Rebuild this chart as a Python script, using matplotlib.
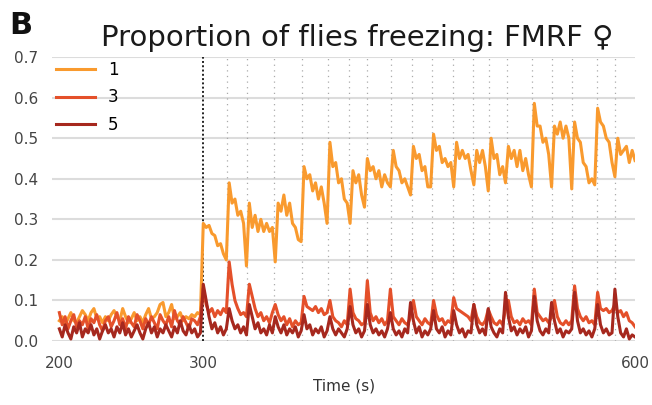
#!/usr/bin/env python3
"""
Freezing proportion trace for FMRF females, three group sizes.
"""

import numpy as np
import matplotlib
matplotlib.use('Agg')
import matplotlib.pyplot as plt


# Time axis (s), one sample every 2 s
TIME = np.arange(200, 601, 2)

# Proportion freezing (rows of 20 s)
FREEZE_1 = [
    0.05, 0.06, 0.04, 0.055, 0.07, 0.05, 0.045, 0.06, 0.075, 0.065,
    0.05, 0.07, 0.08, 0.055, 0.06, 0.045, 0.06, 0.05, 0.065, 0.075,
    0.06, 0.05, 0.08, 0.06, 0.045, 0.055, 0.07, 0.05, 0.06, 0.045,
    0.065, 0.08, 0.055, 0.06, 0.07, 0.09, 0.095, 0.06, 0.07, 0.09,
    0.055, 0.06, 0.07, 0.05, 0.06, 0.055, 0.065, 0.06, 0.07, 0.065,
    0.29, 0.28, 0.285, 0.265, 0.26, 0.235, 0.24, 0.215, 0.2, 0.39,
    0.34, 0.35, 0.31, 0.32, 0.29, 0.185, 0.34, 0.28, 0.31, 0.27,
    0.30, 0.27, 0.29, 0.27, 0.28, 0.195, 0.34, 0.32, 0.36, 0.31,
    0.34, 0.29, 0.28, 0.25, 0.245, 0.43, 0.40, 0.41, 0.37, 0.39,
    0.35, 0.38, 0.34, 0.29, 0.49, 0.43, 0.44, 0.39, 0.40, 0.35,
    0.34, 0.29, 0.42, 0.39, 0.41, 0.36, 0.33, 0.45, 0.42, 0.43,
    0.40, 0.42, 0.38, 0.41, 0.39, 0.38, 0.47, 0.43, 0.42, 0.39,
    0.40, 0.38, 0.36, 0.48, 0.45, 0.46, 0.42, 0.43, 0.38, 0.38,
    0.51, 0.47, 0.48, 0.44, 0.45, 0.43, 0.44, 0.38, 0.49, 0.45,
    0.47, 0.45, 0.46, 0.42, 0.385, 0.47, 0.44, 0.47, 0.43, 0.37,
    0.50, 0.45, 0.46, 0.41, 0.43, 0.39, 0.48, 0.45, 0.47, 0.43,
    0.47, 0.42, 0.45, 0.41, 0.38, 0.586, 0.53, 0.53, 0.49, 0.50,
    0.46, 0.38, 0.53, 0.51, 0.54, 0.50, 0.53, 0.50, 0.375, 0.54,
    0.50, 0.49, 0.44, 0.43, 0.39, 0.40, 0.385, 0.574, 0.54, 0.53,
    0.50, 0.49, 0.44, 0.405, 0.50, 0.46, 0.47, 0.48, 0.44, 0.47,
    0.445,
]

FREEZE_3 = [
    0.07, 0.04, 0.06, 0.03, 0.05, 0.065, 0.035, 0.05, 0.04, 0.06,
    0.03, 0.055, 0.045, 0.065, 0.04, 0.025, 0.05, 0.06, 0.035, 0.05,
    0.07, 0.04, 0.055, 0.03, 0.06, 0.045, 0.035, 0.065, 0.05, 0.03,
    0.055, 0.04, 0.06, 0.045, 0.03, 0.065, 0.05, 0.04, 0.06, 0.035,
    0.075, 0.05, 0.04, 0.06, 0.045, 0.03, 0.055, 0.05, 0.04, 0.06,
    0.13, 0.09, 0.07, 0.08, 0.06, 0.075, 0.065, 0.08, 0.07, 0.195,
    0.14, 0.10, 0.08, 0.065, 0.07, 0.06, 0.14, 0.11, 0.08, 0.06,
    0.07, 0.05, 0.06, 0.045, 0.07, 0.09, 0.065, 0.05, 0.06, 0.04,
    0.055, 0.035, 0.05, 0.04, 0.045, 0.11, 0.085, 0.08, 0.075, 0.085,
    0.07, 0.08, 0.065, 0.07, 0.10, 0.06, 0.05, 0.045, 0.035, 0.05,
    0.04, 0.128, 0.07, 0.055, 0.05, 0.04, 0.045, 0.149, 0.07, 0.05,
    0.06, 0.045, 0.055, 0.04, 0.05, 0.128, 0.06, 0.05, 0.04, 0.055,
    0.045, 0.04, 0.06, 0.10, 0.06, 0.05, 0.04, 0.055, 0.045, 0.04,
    0.10, 0.065, 0.05, 0.055, 0.04, 0.05, 0.045, 0.107, 0.08, 0.075,
    0.07, 0.065, 0.06, 0.05, 0.09, 0.06, 0.045, 0.04, 0.05, 0.078,
    0.06, 0.045, 0.04, 0.05, 0.04, 0.08, 0.10, 0.06, 0.045, 0.05,
    0.04, 0.055, 0.045, 0.05, 0.04, 0.128, 0.07, 0.06, 0.05, 0.055,
    0.045, 0.06, 0.10, 0.06, 0.045, 0.04, 0.05, 0.04, 0.05, 0.136,
    0.08, 0.06, 0.05, 0.06, 0.045, 0.05, 0.04, 0.12, 0.08, 0.075,
    0.08, 0.07, 0.075, 0.09, 0.07, 0.075, 0.06, 0.07, 0.05, 0.045,
    0.035,
]

FREEZE_5 = [
    0.03, 0.01, 0.04, 0.02, 0.005, 0.035, 0.02, 0.045, 0.01, 0.03,
    0.02, 0.04, 0.015, 0.03, 0.005, 0.025, 0.04, 0.02, 0.03, 0.01,
    0.035, 0.02, 0.045, 0.015, 0.03, 0.01, 0.025, 0.04, 0.02, 0.005,
    0.03, 0.045, 0.02, 0.035, 0.01, 0.03, 0.02, 0.04, 0.025, 0.01,
    0.035, 0.02, 0.05, 0.025, 0.015, 0.04, 0.02, 0.03, 0.01, 0.02,
    0.14, 0.10, 0.06, 0.03, 0.045, 0.02, 0.035, 0.015, 0.03, 0.08,
    0.05, 0.03, 0.04, 0.02, 0.035, 0.015, 0.09, 0.06, 0.03, 0.045,
    0.02, 0.03, 0.015, 0.04, 0.02, 0.06, 0.035, 0.02, 0.04, 0.015,
    0.03, 0.02, 0.035, 0.01, 0.025, 0.065, 0.03, 0.04, 0.015, 0.03,
    0.02, 0.035, 0.01, 0.025, 0.06, 0.03, 0.015, 0.03, 0.02, 0.01,
    0.03, 0.085, 0.04, 0.02, 0.03, 0.01, 0.025, 0.09, 0.04, 0.02,
    0.03, 0.015, 0.025, 0.01, 0.03, 0.07, 0.03, 0.015, 0.025, 0.01,
    0.03, 0.02, 0.095, 0.05, 0.02, 0.035, 0.01, 0.025, 0.015, 0.03,
    0.075, 0.03, 0.02, 0.035, 0.01, 0.025, 0.015, 0.075, 0.04, 0.02,
    0.03, 0.01, 0.025, 0.02, 0.09, 0.04, 0.02, 0.03, 0.015, 0.08,
    0.035, 0.02, 0.01, 0.03, 0.02, 0.12, 0.06, 0.025, 0.035, 0.015,
    0.03, 0.02, 0.035, 0.01, 0.025, 0.11, 0.05, 0.025, 0.015, 0.03,
    0.02, 0.095, 0.05, 0.02, 0.03, 0.01, 0.025, 0.02, 0.03, 0.12,
    0.05, 0.02, 0.03, 0.015, 0.025, 0.01, 0.03, 0.09, 0.04, 0.02,
    0.03, 0.015, 0.02, 0.128, 0.06, 0.02, 0.01, 0.03, 0.005, 0.015,
    0.01,
]

SERIES_LABELS = ['1', '3', '5']

# Stimulus onset and the later pulse times (s)
ONSET = 300
PULSES = [316.7, 330.1, 349.3, 368.8, 386.4, 401.4, 413.5, 430.1, 444.7,
          459.0, 473.2, 487.5, 498.6, 510.7, 528.1, 542.4, 556.5, 573.6,
          585.9]

X_TICKS = [200, 300, 600]
Y_TICKS = [0.0, 0.1, 0.2, 0.3, 0.4, 0.5, 0.6, 0.7]

COLORS = ['#f99a2e', '#e4502a', '#a6281e']


def main():
    fig = plt.figure(figsize=(6.52, 4.05), dpi=100)
    ax = fig.add_axes([0.080, 0.158, 0.894, 0.701])

    # horizontal grid only
    for y in Y_TICKS:
        ax.axhline(y, color='#dcdcdc', linewidth=1.5, zorder=0)

    for t in PULSES:
        ax.axvline(t, color='#aaaaaa', linewidth=0.9,
                   linestyle=(0, (1, 3.5)), zorder=1)
    ax.axvline(ONSET, color='#222222', linewidth=1.4,
               linestyle=(0, (1, 1.2)), zorder=1)

    for values, label, color in zip([FREEZE_1, FREEZE_3, FREEZE_5],
                                    SERIES_LABELS, COLORS):
        ax.plot(TIME, values, color=color, linewidth=2.2, label=label,
                zorder=2)

    ax.set_xlim(195, 600)
    ax.set_ylim(0, 0.7)
    ax.set_xticks(X_TICKS)
    ax.set_yticks(Y_TICKS)
    ax.set_yticklabels([f'{y:.1f}' for y in Y_TICKS])
    ax.tick_params(axis='both', length=0, labelsize=11, colors='#444444')
    ax.tick_params(axis='y', pad=10)
    ax.tick_params(axis='x', pad=10.5)
    for spine in ax.spines.values():
        spine.set_visible(False)

    ax.set_xlabel('Time (s)', fontsize=11, color='#333333', labelpad=6)
    ax.set_title('Proportion of flies freezing: FMRF \u2640', fontsize=21,
                 color='#1a1a1a', pad=8, x=0.524)
    fig.text(0.014, 0.915, 'B', fontsize=22, fontweight='bold',
             color='#111111')

    ax.legend(loc='upper left', frameon=False, fontsize=12,
              handlelength=2.3, handletextpad=0.8, labelspacing=0.55,
              borderaxespad=0.0, borderpad=0.25)

    fig.savefig('out.png', dpi=100)
    plt.close(fig)


if __name__ == '__main__':
    main()
